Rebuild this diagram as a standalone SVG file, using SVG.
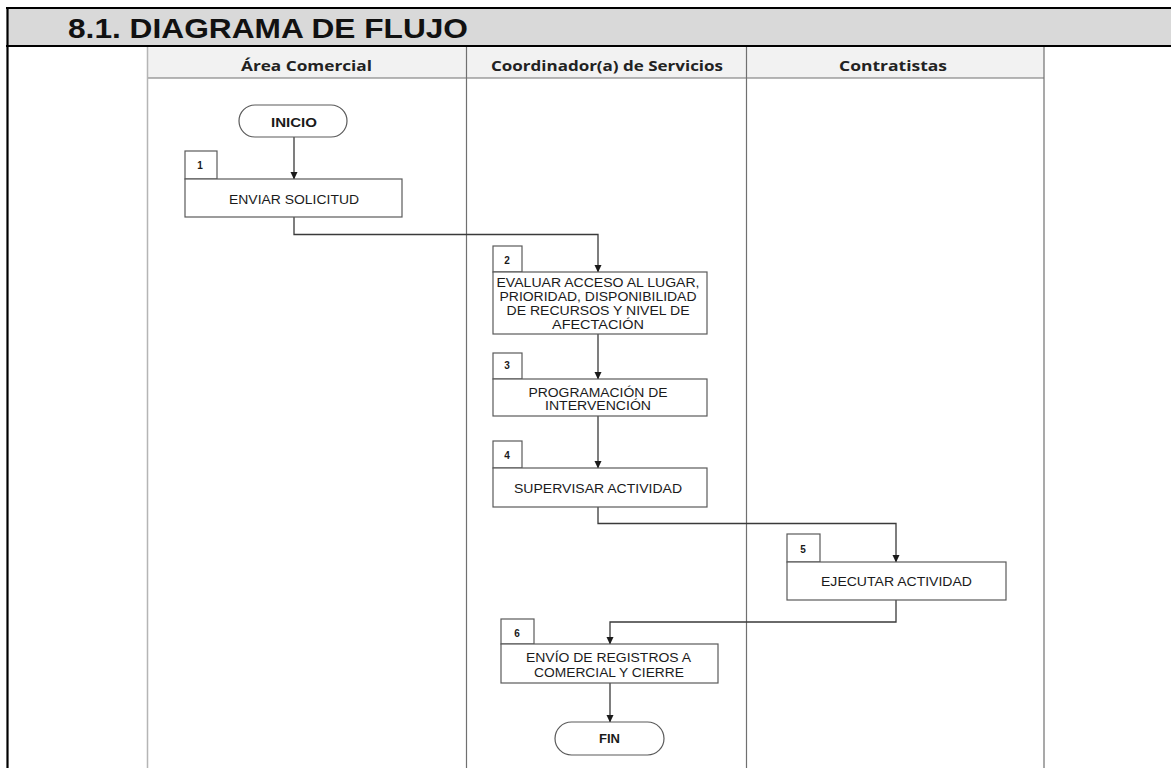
<svg xmlns="http://www.w3.org/2000/svg" width="1171" height="768" viewBox="0 0 1171 768">
<style>
.frame{stroke:#000;stroke-width:2.2;fill:none}
.lane{stroke:#707070;stroke-width:1.2;fill:none}
.box{fill:#fff;stroke:#5a5a5a;stroke-width:1.2}
.term{fill:#fff;stroke:#5a5a5a;stroke-width:1.2}
.conn{fill:none;stroke:#3a3a3a;stroke-width:1.3}
.t{font-family:"Liberation Sans",Arial,sans-serif;font-size:12.5px;fill:#1a1a1a;text-anchor:middle}
.tb{font-family:"Liberation Sans",Arial,sans-serif;font-size:12.5px;font-weight:bold;fill:#1a1a1a;text-anchor:middle}
.num{font-family:"Liberation Sans",Arial,sans-serif;font-size:10px;font-weight:bold;fill:#1a1a1a;text-anchor:middle}
.hdr{font-family:"Open Sans","Liberation Sans",sans-serif;font-size:14px;font-weight:bold;fill:#222;text-anchor:middle}
.title{font-family:"Liberation Sans",Arial,sans-serif;font-size:28.5px;font-weight:bold;fill:#111}
</style>
<defs>
<marker id="ah" markerUnits="userSpaceOnUse" markerWidth="8" markerHeight="8" refX="7" refY="4" orient="auto" viewBox="0 0 8 8">
<path d="M0,0.5 L7.5,4 L0,7.5 Z" fill="#1a1a1a"/>
</marker>
</defs>
<rect x="0" y="0" width="1171" height="768" fill="#fff"/>
<g id="title">
<rect x="7" y="8" width="1164" height="38" fill="#d9d9d9"/>
<line class="frame" x1="6" y1="8" x2="1171" y2="8"/>
<line class="frame" x1="6" y1="46" x2="1171" y2="46"/>
<line class="frame" x1="7.5" y1="7" x2="7.5" y2="768"/>
<text class="title" x="68" y="37.5" textLength="400" lengthAdjust="spacingAndGlyphs">8.1. DIAGRAMA DE FLUJO</text>
</g>
<g id="lanes">
<rect x="147" y="47.5" width="897" height="30.5" fill="#f2f2f2"/>
<line class="lane" x1="147" y1="78" x2="1044" y2="78"/>
<line x1="147.5" y1="47" x2="147.5" y2="768" stroke="#b5b5b5" stroke-width="1.5"/>
<line class="lane" x1="466.5" y1="47" x2="466.5" y2="768"/>
<line class="lane" x1="746.5" y1="47" x2="746.5" y2="768"/>
<line class="lane" x1="1044" y1="47" x2="1044" y2="768" stroke="#8a8a8a"/>
<text class="hdr" x="306.5" y="70.5" textLength="131" lengthAdjust="spacingAndGlyphs">Área Comercial</text>
<text class="hdr" x="607" y="70.5" textLength="232" lengthAdjust="spacingAndGlyphs">Coordinador(a) de Servicios</text>
<text class="hdr" x="893" y="70.5" textLength="108" lengthAdjust="spacingAndGlyphs">Contratistas</text>
</g>
<g id="connectors">
<path class="conn" d="M294 137 V179" marker-end="url(#ah)"/>
<path class="conn" d="M294 217 V234.5 H598 V272" marker-end="url(#ah)"/>
<path class="conn" d="M598 334 V379" marker-end="url(#ah)"/>
<path class="conn" d="M598 416 V468" marker-end="url(#ah)"/>
<path class="conn" d="M598 507 V523.5 H896 V562" marker-end="url(#ah)"/>
<path class="conn" d="M896 600 V622 H610 V644" marker-end="url(#ah)"/>
<path class="conn" d="M610 683 V722" marker-end="url(#ah)"/>
</g>
<g id="inicio">
<rect class="term" x="239" y="105" width="108" height="32" rx="16"/>
<text class="tb" x="294" y="127" textLength="46" lengthAdjust="spacingAndGlyphs">INICIO</text>
</g>
<g id="n1">
<rect class="box" x="185" y="151" width="32" height="28"/>
<text class="num" x="200" y="169">1</text>
<rect class="box" x="185" y="179" width="217" height="38"/>
<text class="t" x="294" y="204" textLength="130" lengthAdjust="spacingAndGlyphs">ENVIAR SOLICITUD</text>
</g>
<g id="n2">
<rect class="box" x="493" y="246" width="29" height="26"/>
<text class="num" x="507" y="263.5">2</text>
<rect class="box" x="493" y="272" width="214" height="62"/>
<text class="t" x="598" y="287.3" textLength="203" lengthAdjust="spacingAndGlyphs">EVALUAR ACCESO AL LUGAR,</text>
<text class="t" x="598" y="301" textLength="197" lengthAdjust="spacingAndGlyphs">PRIORIDAD, DISPONIBILIDAD</text>
<text class="t" x="598" y="314.5" textLength="183" lengthAdjust="spacingAndGlyphs">DE RECURSOS Y NIVEL DE</text>
<text class="t" x="598" y="328.5" textLength="92" lengthAdjust="spacingAndGlyphs">AFECTACIÓN</text>
</g>
<g id="n3">
<rect class="box" x="493" y="353" width="29" height="26"/>
<text class="num" x="507" y="369">3</text>
<rect class="box" x="493" y="379" width="214" height="37"/>
<text class="t" x="598" y="396.7" textLength="139" lengthAdjust="spacingAndGlyphs">PROGRAMACIÓN DE</text>
<text class="t" x="598" y="410" textLength="106" lengthAdjust="spacingAndGlyphs">INTERVENCIÓN</text>
</g>
<g id="n4">
<rect class="box" x="493" y="441" width="29" height="27"/>
<text class="num" x="507" y="458.5">4</text>
<rect class="box" x="493" y="468" width="214" height="39"/>
<text class="t" x="598" y="493" textLength="168" lengthAdjust="spacingAndGlyphs">SUPERVISAR ACTIVIDAD</text>
</g>
<g id="n5">
<rect class="box" x="787" y="534" width="33" height="28"/>
<text class="num" x="803" y="553">5</text>
<rect class="box" x="787" y="562" width="219" height="38"/>
<text class="t" x="896.5" y="586" textLength="151" lengthAdjust="spacingAndGlyphs">EJECUTAR ACTIVIDAD</text>
</g>
<g id="n6">
<rect class="box" x="501" y="619" width="33" height="25"/>
<text class="num" x="517" y="637">6</text>
<rect class="box" x="501" y="644" width="217" height="39"/>
<text class="t" x="608.5" y="662.3" textLength="165" lengthAdjust="spacingAndGlyphs">ENVÍO DE REGISTROS A</text>
<text class="t" x="609" y="676.7" textLength="150" lengthAdjust="spacingAndGlyphs">COMERCIAL Y CIERRE</text>
</g>
<g id="fin">
<rect class="term" x="555" y="722" width="109" height="33" rx="16.5"/>
<text class="tb" x="609.5" y="742.7" textLength="21" lengthAdjust="spacingAndGlyphs">FIN</text>
</g>
</svg>
